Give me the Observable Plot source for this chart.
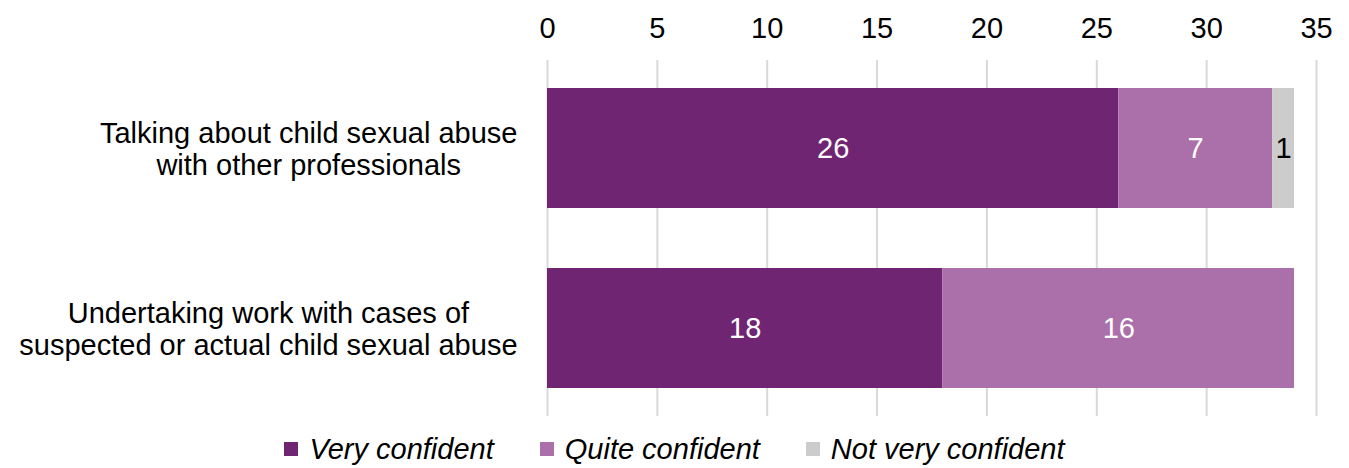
<!DOCTYPE html>
<html>
<head>
<meta charset="utf-8">
<script src="https://cdn.jsdelivr.net/npm/d3@7"></script>
<script src="https://cdn.jsdelivr.net/npm/@observablehq/plot@0.6"></script>
<style>
  body { margin: 0; background: #fff; font-family: "Liberation Sans", Arial, sans-serif; }
  #legend { display: flex; justify-content: center; align-items: center; gap: 46px; height: 58px; font-size: 29px; font-style: italic; color: #000; }
  #legend .item { display: flex; align-items: center; gap: 11px; }
  #legend .sw { width: 14px; height: 14px; display: inline-block; }
</style>
</head>
<body>
<div id="chart"></div>
<div id="legend"></div>
<script>
const categories = [
  "Talking about child sexual abuse\nwith other professionals",
  "Undertaking work with cases of\nsuspected or actual child sexual abuse"
];
const seriesNames = ["Very confident", "Quite confident", "Not very confident"];
const veryConfident = [26, 18];
const quiteConfident = [7, 16];
const notVeryConfident = [1, 0];
const colors = ["#702573", "#AB70AA", "#CCCCCC"];
const labelColors = ["#ffffff", "#ffffff", "#000000"];
const xTicks = [0, 5, 10, 15, 20, 25, 30, 35];

const seriesValues = [veryConfident, quiteConfident, notVeryConfident];
const data = [];
categories.forEach((c, i) => {
  seriesNames.forEach((s, j) => {
    data.push({category: c, series: s, value: seriesValues[j][i], order: j});
  });
});

const FS = 29;
const font = "'Liberation Sans', Arial, sans-serif";
const ctx = document.createElement("canvas").getContext("2d");
ctx.font = `${FS}px ${font}`;
const gap = 30;
const labelMarks = categories.map(c => {
  const w = d3.max(c.split("\n"), l => ctx.measureText(l).width);
  return Plot.text([c], {
    y: d => d, frameAnchor: "left", text: d => d,
    textAnchor: "middle", dx: -(gap + w / 2), lineHeight: 1.1,
    fontSize: FS, fill: "#000"
  });
});

const labelFills = Array.from(new Set(labelColors));
const valueMarks = labelFills.map(col =>
  Plot.text(data, Plot.stackX({
    y: "category", x: "value", order: "order", z: "series",
    text: d => (d.value > 0 && labelColors[d.order] === col) ? String(d.value) : null,
    fill: col, fontSize: FS
  }))
);

const chart = Plot.plot({
  width: 1349,
  height: 420,
  marginLeft: 547,
  marginRight: 33,
  marginTop: 60,
  marginBottom: 4,
  style: {fontFamily: font, fontSize: `${FS}px`, color: "#000", background: "#fff"},
  x: {domain: [0, 35], ticks: xTicks, label: null},
  y: {domain: categories, axis: null, paddingInner: 0.333, paddingOuter: 0.15},
  color: {domain: seriesNames, range: colors},
  marks: [
    Plot.gridX(xTicks, {stroke: "#d9d9d9", strokeOpacity: 1, strokeWidth: 2}),
    Plot.axisX(xTicks, {anchor: "top", tickSize: 0, tickPadding: 23, fontSize: FS, label: null, fill: "#000"}),
    Plot.barX(data, Plot.stackX({y: "category", x: "value", fill: "series", order: "order", z: "series", filter: d => d.value > 0})),
    ...valueMarks,
    ...labelMarks
  ]
});
document.getElementById("chart").appendChild(chart);

const legend = document.getElementById("legend");
seriesNames.forEach((s, j) => {
  const item = document.createElement("div");
  item.className = "item";
  const sw = document.createElement("span");
  sw.className = "sw";
  sw.style.background = colors[j];
  const t = document.createElement("span");
  t.textContent = s;
  item.appendChild(sw);
  item.appendChild(t);
  legend.appendChild(item);
});
</script>
</body>
</html>
